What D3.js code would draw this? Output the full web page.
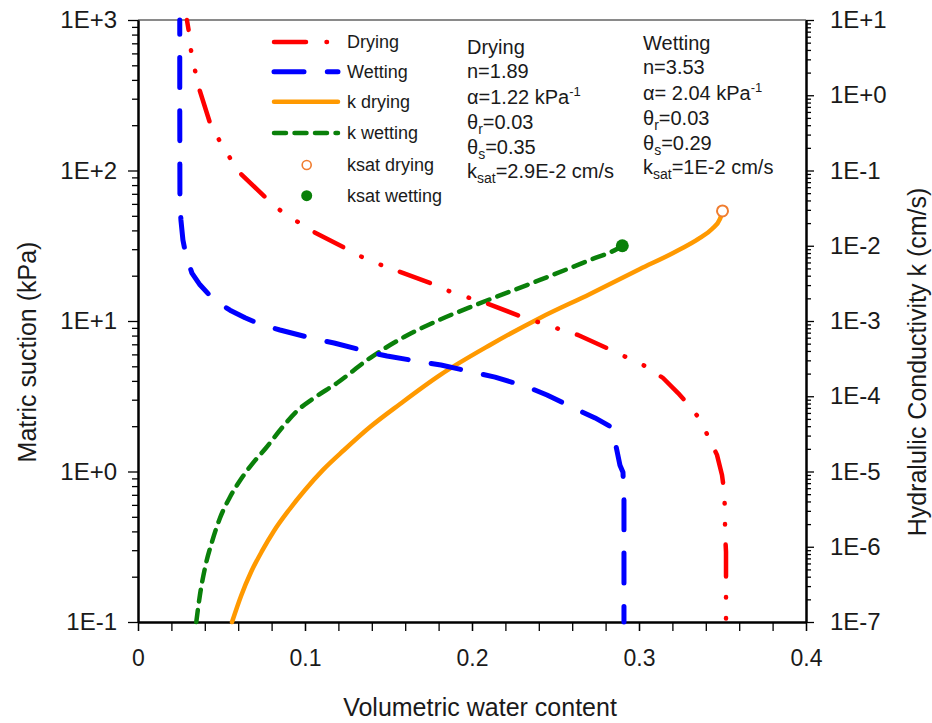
<!DOCTYPE html>
<html>
<head>
<meta charset="utf-8">
<script src="https://cdn.jsdelivr.net/npm/d3@7"></script>
<style>
  html, body { margin: 0; padding: 0; background: #fff; }
  svg { display: block; }
  text { font-family: "Liberation Sans", Arial, sans-serif; fill: #1a1a1a; }
</style>
</head>
<body>
<svg id="chart" width="932" height="723"></svg>
<script>
// Soil-water characteristic curves (left axis) and hydraulic conductivity (right axis)

// Drying SWCC: volumetric water content vs matric suction (kPa)
const dryTheta   = [0.0293, 0.0305, 0.0317, 0.0341, 0.0365, 0.0431, 0.0485, 0.0551, 0.0611, 0.0766, 0.0856, 0.0958, 0.1054, 0.1240, 0.1353, 0.1455, 0.1569, 0.1766, 0.1874, 0.1988, 0.2096, 0.2305, 0.2413, 0.2521, 0.2635, 0.2832, 0.2934, 0.3048, 0.3144, 0.3234, 0.3287, 0.3359, 0.3413, 0.3467, 0.3497, 0.3509, 0.3515, 0.3515, 0.3521, 0.3521, 0.3521];
const drySuction = [1000, 832, 632, 465, 353, 207, 160, 121, 96.2, 65.7, 53.8, 45.5, 39.0, 30.5, 26.2, 23.6, 21.2, 17.6, 15.6, 14.2, 13.0, 10.6, 9.70, 8.85, 8.07, 6.42, 5.68, 4.95, 4.18, 3.32, 2.85, 2.27, 1.72, 1.29, 0.948, 0.753, 0.547, 0.396, 0.292, 0.168, 0.1];

// Wetting SWCC
const wetTheta   = [0.0250, 0.0250, 0.0251, 0.0257, 0.0269, 0.0287, 0.0323, 0.0371, 0.0455, 0.0551, 0.0641, 0.0743, 0.0850, 0.1060, 0.1174, 0.1383, 0.1491, 0.1701, 0.1814, 0.2030, 0.2138, 0.2335, 0.2449, 0.2635, 0.2737, 0.2832, 0.2862, 0.2886, 0.2904, 0.2910, 0.2910];
const wetSuction = [1000, 294, 63.7, 46.9, 34.5, 27.5, 20.8, 17.4, 13.8, 11.8, 10.5, 9.41, 8.71, 7.59, 7.14, 6.22, 5.85, 5.34, 5.10, 4.51, 4.24, 3.64, 3.22, 2.56, 2.27, 1.98, 1.48, 1.10, 0.99, 0.647, 0.1];

// Hydraulic conductivity, drying branch (cm/s)
const kDryTheta = [0.0563, 0.0617, 0.0677, 0.0743, 0.0814, 0.0904, 0.1000, 0.1108, 0.1234, 0.1389, 0.1569, 0.1808, 0.2108, 0.2407, 0.2707, 0.3006, 0.3204, 0.3365, 0.3437, 0.3485, 0.35];
const kDryValue = [1e-7, 2.22e-7, 4.61e-7, 8.79e-7, 1.62e-6, 3.08e-6, 5.68e-6, 1.05e-5, 1.93e-5, 3.90e-5, 7.89e-5, 1.91e-4, 4.80e-4, 1.10e-3, 2.29e-3, 4.91e-3, 8.01e-3, 1.27e-2, 1.67e-2, 2.27e-2, 2.9e-2];

// Hydraulic conductivity, wetting branch (cm/s)
const kWetTheta = [0.0349, 0.0371, 0.0401, 0.0443, 0.0491, 0.0551, 0.0617, 0.0689, 0.0766, 0.0856, 0.0952, 0.1054, 0.1192, 0.1389, 0.1593, 0.1790, 0.2030, 0.2407, 0.2707, 0.2868, 0.29];
const kWetValue = [1e-7, 2.29e-7, 5.22e-7, 1.16e-6, 2.41e-6, 4.58e-6, 7.94e-6, 1.30e-5, 2.05e-5, 3.67e-5, 6.37e-5, 9.48e-5, 1.50e-4, 3.22e-4, 6.12e-4, 1.00e-3, 1.66e-3, 3.51e-3, 6.47e-3, 9.06e-3, 1e-2];

// Saturated conductivity points
const ksatDry = [0.35, 2.9e-2];
const ksatWet = [0.29, 1e-2];

// Axis ticks and labels
const xTicksMajor = [0, 0.1, 0.2, 0.3, 0.4];
const xTickLabels = ["0", "0.1", "0.2", "0.3", "0.4"];
const leftMajors  = [0.1, 1, 10, 100, 1000];
const leftLabels  = ["1E-1", "1E+0", "1E+1", "1E+2", "1E+3"];
const rightMajors = [1e-7, 1e-6, 1e-5, 1e-4, 1e-3, 1e-2, 1e-1, 1, 10];
const rightLabels = ["1E-7", "1E-6", "1E-5", "1E-4", "1E-3", "1E-2", "1E-1", "1E+0", "1E+1"];

// Legend and parameter text
const legendNames = ["Drying", "Wetting", "k drying", "k wetting", "ksat drying", "ksat wetting"];
const dryParams = { title: "Drying",  n: "1.89", alpha: "=1.22 kPa",  thr: "0.03", ths: "0.35", ksat: "=2.9E-2 cm/s" };
const wetParams = { title: "Wetting", n: "3.53", alpha: "= 2.04 kPa", thr: "0.03", ths: "0.29", ksat: "=1E-2 cm/s" };

const C = { red: "#ff0000", blue: "#0000ff", orange: "#ff9900", green: "#0a800a", ring: "#f07c2e" };

const svg = d3.select("#chart");
const X0 = 138, X1 = 806, Y0 = 20, Y1 = 622;

const x  = d3.scaleLinear().domain([0, 0.4]).range([X0, X1]);
const yL = d3.scaleLog().domain([0.1, 1000]).range([Y1, Y0]);
const yR = d3.scaleLog().domain([1e-7, 10]).range([Y1, Y0]);

function minorsOf(majors) {
  const out = [];
  majors.slice(0, -1).forEach(m => { for (let i = 2; i <= 9; i++) out.push(m * i); });
  return out;
}

// plot frame: grey top edge
svg.append("line").attr("x1", X0).attr("x2", X1).attr("y1", Y0).attr("y2", Y0)
  .attr("stroke", "#8a8a8a").attr("stroke-width", 2);

function styleAxis(g, w) {
  g.select(".domain").attr("stroke", "#000").attr("stroke-width", w);
  g.selectAll(".tick line").attr("stroke", "#000").attr("stroke-width", 1.3);
  g.selectAll(".tick text").attr("fill", "#1a1a1a").style("font-family", '"Liberation Sans", Arial, sans-serif');
}

// x axis
const gxMinor = svg.append("g").attr("transform", `translate(0,${Y1})`)
  .call(d3.axisBottom(x).tickValues(d3.range(0, 21).map(i => i * 0.02)).tickSize(9).tickSizeOuter(0).tickFormat(""));
styleAxis(gxMinor, 2);
const gx = svg.append("g").attr("transform", `translate(0,${Y1})`)
  .call(d3.axisBottom(x).tickValues(xTicksMajor).tickSize(9).tickSizeOuter(0).tickPadding(19)
    .tickFormat((d, i) => xTickLabels[i]));
styleAxis(gx, 2);
gx.selectAll(".tick text").attr("font-size", 23);

// left axis
const gyMinor = svg.append("g").attr("transform", `translate(${X0},0)`)
  .call(d3.axisLeft(yL).tickValues(minorsOf(leftMajors)).tickSize(6).tickSizeOuter(0).tickFormat(""));
styleAxis(gyMinor, 2);
const gy = svg.append("g").attr("transform", `translate(${X0},0)`)
  .call(d3.axisLeft(yL).tickValues(leftMajors).tickSize(10).tickSizeOuter(0).tickPadding(11)
    .tickFormat((d, i) => leftLabels[i]));
styleAxis(gy, 2);
gy.selectAll(".tick text").attr("font-size", 24);

// right axis
const grMinor = svg.append("g").attr("transform", `translate(${X1},0)`)
  .call(d3.axisRight(yR).tickValues(minorsOf(rightMajors)).tickSize(5).tickSizeOuter(0).tickFormat(""));
styleAxis(grMinor, 2);
const gr = svg.append("g").attr("transform", `translate(${X1},0)`)
  .call(d3.axisRight(yR).tickValues(rightMajors).tickSize(8).tickSizeOuter(0).tickPadding(16)
    .tickFormat((d, i) => rightLabels[i]));
styleAxis(gr, 2);
gr.selectAll(".tick text").attr("font-size", 24);

// axis titles
svg.append("text").attr("x", 480).attr("y", 716).attr("text-anchor", "middle")
  .attr("font-size", 25).text("Volumetric water content");
svg.append("text").attr("transform", "translate(36,352) rotate(-90)").attr("text-anchor", "middle")
  .attr("font-size", 25).text("Matric suction (kPa)");
svg.append("text").attr("transform", "translate(926,362) rotate(-90)").attr("text-anchor", "middle")
  .attr("font-size", 25).text("Hydralulic Conductivity k (cm/s)");

// curves
const zip = (a, b) => a.map((v, i) => [v, b[i]]);
const lineL = d3.line().x(d => x(d[0])).y(d => yL(d[1]));
const lineR = d3.line().x(d => x(d[0])).y(d => yR(d[1])).curve(d3.curveMonotoneX);

const plot = svg.append("g").attr("fill", "none").attr("stroke-linecap", "round").attr("stroke-linejoin", "round");

plot.append("path").attr("d", lineR(zip(kDryTheta, kDryValue)))
  .attr("stroke", C.orange).attr("stroke-width", 4.5);
plot.append("path").attr("d", lineR(zip(kWetTheta, kWetValue)))
  .attr("stroke", C.green).attr("stroke-width", 4.5).attr("stroke-dasharray", "12,8.5");
plot.append("path").attr("d", lineL(zip(wetTheta, wetSuction)))
  .attr("stroke", C.blue).attr("stroke-width", 5).attr("stroke-dasharray", "30,23.3").attr("stroke-dashoffset", 15.8);
plot.append("path").attr("d", lineL(zip(dryTheta, drySuction)))
  .attr("stroke", C.red).attr("stroke-width", 4.5)
  .attr("stroke-dasharray", "32,20.5,0.5,20.5,0.5,20").attr("stroke-dashoffset", 22);

// saturated conductivity markers
svg.append("circle").attr("cx", x(ksatDry[0])).attr("cy", yR(ksatDry[1])).attr("r", 5.5)
  .attr("fill", "#fff").attr("stroke", C.ring).attr("stroke-width", 2);
svg.append("circle").attr("cx", x(ksatWet[0])).attr("cy", yR(ksatWet[1])).attr("r", 6.5)
  .attr("fill", C.green);

// legend
const legRows = [42, 71.7, 101.7, 133, 165, 195.7];
const lg = svg.append("g");
const legStyles = [
  { stroke: C.red,    w: 4.5, dash: "32,20.5,0.5,20.5,0.5,20" },
  { stroke: C.blue,   w: 5,   dash: "30,23.3" },
  { stroke: C.orange, w: 4.5, dash: null },
  { stroke: C.green,  w: 4.5, dash: "12,8.5" }
];
legStyles.forEach((s, i) => {
  lg.append("line").attr("x1", 274).attr("x2", 338).attr("y1", legRows[i]).attr("y2", legRows[i])
    .attr("stroke", s.stroke).attr("stroke-width", s.w).attr("stroke-linecap", "round")
    .attr("stroke-dasharray", s.dash);
});
lg.append("circle").attr("cx", 306.7).attr("cy", legRows[4]).attr("r", 4.5)
  .attr("fill", "#fff").attr("stroke", C.ring).attr("stroke-width", 1.6);
lg.append("circle").attr("cx", 306.7).attr("cy", legRows[5]).attr("r", 5.5).attr("fill", C.green);
legendNames.forEach((name, i) => {
  lg.append("text").attr("x", 347).attr("y", legRows[i]).attr("dy", "0.35em")
    .attr("font-size", 18).text(name);
});

// parameter blocks
function paramBlock(p, x0, rows) {
  const g = svg.append("g").attr("font-size", 20);
  const t = (i) => g.append("text").attr("x", x0).attr("y", rows[i]).attr("dy", "0.35em");
  t(0).text(p.title);
  t(1).text("n=" + p.n);
  const a = t(2); a.append("tspan").text("\u03b1" + p.alpha);
  a.append("tspan").attr("font-size", 13).attr("dy", -8).text("-1");
  const r = t(3); r.append("tspan").text("\u03b8");
  r.append("tspan").attr("font-size", 14).attr("dy", 5).text("r");
  r.append("tspan").attr("dy", -5).text("=" + p.thr);
  const s = t(4); s.append("tspan").text("\u03b8");
  s.append("tspan").attr("font-size", 14).attr("dy", 5).text("s");
  s.append("tspan").attr("dy", -5).text("=" + p.ths);
  const k = t(5); k.append("tspan").text("k");
  k.append("tspan").attr("font-size", 14).attr("dy", 5).text("sat");
  k.append("tspan").attr("dy", -5).text(p.ksat);
}
paramBlock(dryParams, 467, [46.7, 70.5, 96.5, 121.5, 146.5, 170.5]);
paramBlock(wetParams, 643, [42.7, 66.7, 92.5, 117.7, 143, 166.7]);
</script>
</body>
</html>
